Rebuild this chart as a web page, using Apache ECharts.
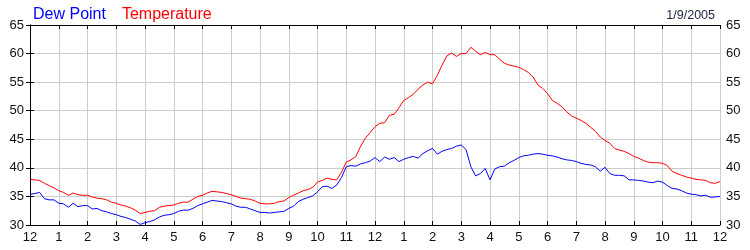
<!DOCTYPE html>
<html><head><meta charset="utf-8">
<script src="https://cdn.jsdelivr.net/npm/echarts@6/dist/echarts.min.js"></script>
<style>html,body{margin:0;padding:0;background:#fff}#c{width:750px;height:250px}</style>
</head><body><div id="c"></div>
<script>
// samples every 10 minutes from 12 AM to 12 AM (next day)
const stepMinutes = 10;
const temperature = [
38.0,37.9,37.8,37.3,36.9,36.5,36.0,35.7,35.2,35.6,35.3,35.2,
35.2,34.9,34.7,34.6,34.4,34.0,33.8,33.5,33.3,33.0,32.6,32.0,
32.2,32.4,32.5,33.1,33.3,33.4,33.5,33.8,34.0,34.0,34.5,35.0,
35.2,35.6,35.9,35.8,35.7,35.5,35.3,35.0,34.7,34.6,34.5,34.2,
33.8,33.7,33.7,33.8,34.1,34.2,34.8,35.2,35.6,36.0,36.2,36.6,
37.5,37.8,38.2,38.0,37.9,39.2,41.0,41.4,42.0,43.8,45.2,46.2,
47.2,47.8,47.9,49.2,49.4,50.5,51.8,52.3,52.9,53.8,54.5,55.0,
54.7,56.2,58.0,59.6,60.1,59.5,60.0,60.0,61.1,60.4,59.8,60.2,
59.8,59.8,59.0,58.3,58.0,57.8,57.6,57.2,56.7,55.9,54.5,53.9,
53.0,51.8,51.3,50.7,49.8,49.1,48.7,48.3,47.8,47.1,46.4,45.4,
44.8,44.3,43.4,43.1,42.9,42.5,42.0,41.7,41.3,41.0,40.9,40.9,
40.8,40.4,39.4,39.0,38.7,38.4,38.2,38.0,37.9,37.8,37.4,37.3,
37.6];
const dewPoint = [
35.4,35.5,35.7,34.6,34.4,34.4,33.8,33.7,33.1,33.8,33.2,33.4,
33.4,32.8,32.9,32.5,32.3,32.0,31.8,31.5,31.3,31.0,30.7,30.1,
30.4,30.6,30.9,31.4,31.7,31.8,32.0,32.4,32.6,32.6,32.9,33.4,
33.7,34.0,34.3,34.2,34.1,33.9,33.7,33.3,33.1,33.1,32.8,32.5,
32.2,32.2,32.1,32.2,32.3,32.4,32.9,33.3,34.1,34.5,34.8,35.1,
35.8,36.7,36.8,36.4,37.0,38.3,40.2,40.4,40.3,40.7,40.9,41.2,
41.8,41.1,41.9,41.5,41.8,41.1,41.5,41.8,42.0,41.7,42.5,43.0,
43.4,42.4,42.9,43.2,43.4,43.8,44.0,43.2,40.2,38.6,39.0,39.9,
37.9,39.8,40.2,40.3,40.9,41.3,41.8,42.1,42.2,42.4,42.5,42.4,
42.2,42.1,41.9,41.6,41.4,41.3,41.1,40.8,40.6,40.5,40.2,39.4,
40.1,39.0,38.7,38.7,38.6,37.9,37.9,37.8,37.7,37.5,37.4,37.7,
37.5,36.9,36.4,36.3,36.0,35.6,35.4,35.3,35.1,35.2,34.85,34.9,
35.0];
const hourLabels = ['12','1','2','3','4','5','6','7','8','9','10','11','12','1','2','3','4','5','6','7','8','9','10','11','12'];
const seriesNames = ['Dew Point','Temperature'];
const dateLabel = '1/9/2005';

const toPairs = arr => arr.map((v,i)=>[i*stepMinutes/60, v]);
const FONT = '"Liberation Sans", Arial, sans-serif';
const TXT = '#111';

const chart = echarts.init(document.getElementById('c'), null, {renderer:'canvas'});
const axisLine = {show:true, lineStyle:{color:'#000', width:1}};
const tick = {show:true, inside:true, length:4, lineStyle:{color:'#000'}};
chart.setOption({
  animation:false,
  backgroundColor:'#fff',
  title:{text:dateLabel, right:30, top:4, textStyle:{fontFamily:FONT, fontSize:12.5, fontWeight:'normal', color:'#1a2340'}},
  legend:{left:23, top:2, icon:'none', itemWidth:0, itemGap:11, selectedMode:false,
    textStyle:{fontFamily:FONT, fontSize:16},
    data:[{name:seriesNames[0], textStyle:{color:'#0000ff'}},{name:seriesNames[1], textStyle:{color:'#ff0000'}}]},
  grid:{left:30, right:30, top:25, bottom:25, containLabel:false},
  xAxis:[{type:'value', min:0, max:24, interval:1, position:'bottom',
    axisLine, axisTick:tick,
    axisLabel:{fontFamily:FONT, fontSize:13, color:TXT, margin:6, formatter:v=>hourLabels[Math.round(v)]},
    splitLine:{show:true, lineStyle:{color:'#cccccc', width:1}}},
   {type:'value', min:0, max:24, interval:1, position:'top',
    axisLine, axisTick:tick, axisLabel:{show:false}, splitLine:{show:false}}],
  yAxis:[{type:'value', min:30, max:65, interval:5, position:'left',
    axisLine, axisTick:tick,
    axisLabel:{fontFamily:FONT, fontSize:13, color:TXT, margin:6},
    splitLine:{show:true, lineStyle:{color:'#cccccc', width:1}}},
   {type:'value', min:30, max:65, interval:5, position:'right',
    axisLine, axisTick:tick,
    axisLabel:{fontFamily:FONT, fontSize:13, color:TXT, margin:6},
    splitLine:{show:false}}],
  series:[
    {name:seriesNames[0], type:'line', data:toPairs(dewPoint), showSymbol:false, symbol:'none',
     lineStyle:{color:'#0000ff', width:1}, itemStyle:{color:'#0000ff'}, z:3},
    {name:seriesNames[1], type:'line', data:toPairs(temperature), showSymbol:false, symbol:'none',
     lineStyle:{color:'#ff0000', width:1}, itemStyle:{color:'#ff0000'}, z:2}
  ]
});
</script></body></html>
